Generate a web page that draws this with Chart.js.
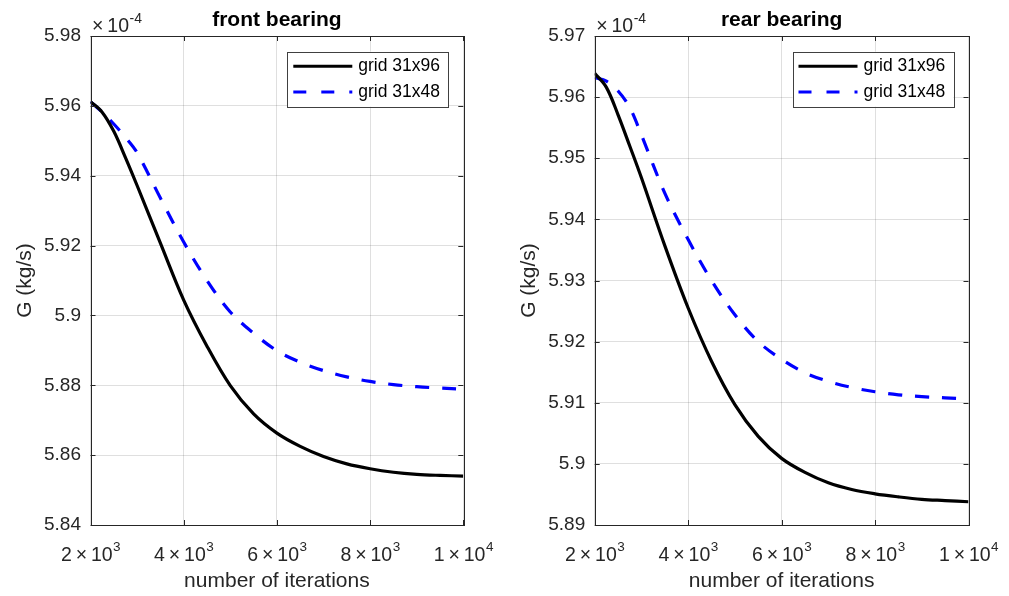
<!DOCTYPE html>
<html>
<head>
<meta charset="utf-8">
<script src="https://cdn.jsdelivr.net/npm/chart.js@4"></script>
<style>
  html, body { margin: 0; padding: 0; background: #fff; }
  #wrap { position: relative; width: 1009px; height: 596px; overflow: hidden; }
  .box { position: absolute; top: 0; height: 596px; }
</style>
</head>
<body>
<div id="wrap">
  <div class="box" style="left:0;width:504px"><canvas id="front" width="504" height="596"></canvas></div>
  <div class="box" style="left:504px;width:505px"><canvas id="rear" width="505" height="596"></canvas></div>
</div>
<script>
// Données (G en 1e-4 kg/s)
const iterations = [2000, 2250, 2500, 2750, 3000, 3500, 4000, 4500, 5000, 5500, 6000, 6500, 7000, 7500, 8000, 8500, 9000, 9500, 10000];

const frontGrid96 = [5.9612, 5.9582, 5.9527, 5.9452, 5.9372, 5.9207, 5.9044, 5.8912, 5.8799, 5.8718, 5.8663, 5.8625, 5.8596, 5.8575, 5.8561, 5.8551, 5.8545, 5.8542, 5.854];
const frontGrid48 = [5.9612, 5.9582, 5.9548, 5.951, 5.9466, 5.9336, 5.921, 5.910, 5.901, 5.8949, 5.8899, 5.8866, 5.8842, 5.8824, 5.8811, 5.8802, 5.8796, 5.8792, 5.8789];

const rearGrid96 = [5.9639, 5.9616, 5.9571, 5.952, 5.9468, 5.9357, 5.9255, 5.9168, 5.9097, 5.9045, 5.9009, 5.8986, 5.8969, 5.8958, 5.8951, 5.8946, 5.8942, 5.894, 5.8938];
const rearGrid48 = [5.9632, 5.9626, 5.961, 5.9583, 5.9538, 5.9443, 5.9367, 5.930, 5.9244, 5.920, 5.9171, 5.9149, 5.9135, 5.9125, 5.9118, 5.9113, 5.911, 5.9108, 5.9106];

const seriesLabels = ['grid 31x96', 'grid 31x48'];
const xLabel = 'number of iterations';
const yLabel = 'G (kg/s)';

const FONT = '"Liberation Sans", Arial, Helvetica, sans-serif';
const TXT = '#262626';
const DASH = [14, 13];

function toPoints(ys) {
    return ys.map((y, i) => ({ x: iterations[i], y: y }));
}

// Décorations façon MATLAB : cadre, ticks internes, titre, exposants, légende
const matlabDeco = {
    id: 'matlabDeco',
    afterDraw(chart, args, opts) {
        const ctx = chart.ctx;
        const a = chart.chartArea;
        const xs = chart.scales.x, ys = chart.scales.y;
        ctx.save();

        // cadre
        ctx.strokeStyle = TXT;
        ctx.lineWidth = 1;
        ctx.strokeRect(Math.round(a.left) + 0.5, Math.round(a.top) + 0.5,
            Math.round(a.right - a.left), Math.round(a.bottom - a.top));

        // ticks internes
        const tl = 5;
        ctx.beginPath();
        xs.ticks.forEach(t => {
            const px = Math.round(xs.getPixelForValue(t.value)) + 0.5;
            ctx.moveTo(px, a.bottom); ctx.lineTo(px, a.bottom - tl);
            ctx.moveTo(px, a.top); ctx.lineTo(px, a.top + tl);
        });
        ys.ticks.forEach(t => {
            const py = Math.round(ys.getPixelForValue(t.value)) + 0.5;
            ctx.moveTo(a.left, py); ctx.lineTo(a.left + tl, py);
            ctx.moveTo(a.right, py); ctx.lineTo(a.right - tl, py);
        });
        ctx.stroke();

        ctx.fillStyle = TXT;

        // labels de l'axe x : m x 10^e
        xs.ticks.forEach(t => {
            const v = t.value;
            const e = Math.floor(Math.log10(v) + 1e-9);
            const m = Math.round(v / Math.pow(10, e));
            const base = m + '\u2009\u00d7\u200910';
            ctx.font = '19.5px ' + FONT;
            const wb = ctx.measureText(base).width;
            ctx.font = '13.5px ' + FONT;
            const ws = ctx.measureText(String(e)).width;
            const x0 = xs.getPixelForValue(v) - (wb + ws) / 2;
            ctx.textAlign = 'left';
            ctx.textBaseline = 'alphabetic';
            ctx.font = '19.5px ' + FONT;
            ctx.fillText(base, x0, 561);
            ctx.font = '13.5px ' + FONT;
            ctx.fillText(String(e), x0 + wb + 0.5, 551);
        });

        // titre de l'axe x
        ctx.font = '21px ' + FONT;
        ctx.textAlign = 'center';
        ctx.fillText(xLabel, (a.left + a.right) / 2, 587);

        // titre de l'axe y
        ctx.save();
        ctx.translate(25, (a.top + a.bottom) / 2);
        ctx.rotate(-Math.PI / 2);
        ctx.textBaseline = 'middle';
        ctx.fillText(yLabel, 0, 0);
        ctx.restore();

        // titre du graphique
        ctx.font = 'bold 21px ' + FONT;
        ctx.textAlign = 'center';
        ctx.textBaseline = 'alphabetic';
        ctx.fillStyle = '#000';
        ctx.fillText(opts.title, (a.left + a.right) / 2, 26);

        // multiplicateur x10^-4
        ctx.fillStyle = TXT;
        ctx.textAlign = 'left';
        ctx.font = '19.5px ' + FONT;
        const bx = a.left + 1.5;
        const mult = '\u00d7\u200910';
        ctx.fillText(mult, bx, 31.5);
        const wx = ctx.measureText(mult).width;
        ctx.font = '14px ' + FONT;
        ctx.fillText('-4', bx + wx + 0.5, 23);

        // légende
        const lw = 161, lh = 55;
        const lx = a.right - 15 - lw, ly = a.top + 15.7;
        ctx.fillStyle = '#fff';
        ctx.fillRect(lx, ly, lw, lh);
        ctx.strokeStyle = '#404040';
        ctx.lineWidth = 1;
        ctx.strokeRect(Math.round(lx) + 0.5, Math.round(ly) + 0.5, lw, lh);

        const rows = [
            { label: seriesLabels[0], color: '#000', dash: [] },
            { label: seriesLabels[1], color: '#0000ff', dash: [13, 15] }
        ];
        rows.forEach((r, i) => {
            const yy = ly + 14.5 + i * 25.7;
            ctx.strokeStyle = r.color;
            ctx.lineWidth = 3;
            ctx.setLineDash(r.dash);
            ctx.beginPath();
            ctx.moveTo(lx + 6, yy);
            ctx.lineTo(lx + 65, yy);
            ctx.stroke();
            ctx.setLineDash([]);
            ctx.fillStyle = '#000';
            ctx.font = '17.5px ' + FONT;
            ctx.textBaseline = 'middle';
            ctx.fillText(r.label, lx + 71, yy);
        });

        ctx.restore();
    }
};

function makeChart(id, title, fine, coarse, yMin, yMax, yStep, yWidth, padRight) {
    const ctx = document.getElementById(id).getContext('2d');
    return new Chart(ctx, {
        type: 'line',
        data: {
            datasets: [{
                label: seriesLabels[0],
                data: toPoints(fine),
                borderColor: '#000000',
                borderWidth: 3.2,
                pointRadius: 0,
                fill: false,
                tension: 0.35
            }, {
                label: seriesLabels[1],
                data: toPoints(coarse),
                borderColor: '#0000ff',
                borderWidth: 3.2,
                borderDash: DASH,
                pointRadius: 0,
                fill: false,
                tension: 0.35
            }]
        },
        options: {
            responsive: false,
            animation: false,
            devicePixelRatio: 1,
            layout: { padding: { top: 36, right: padRight, bottom: 0, left: 0 } },
            plugins: {
                legend: { display: false },
                title: { display: false },
                tooltip: { enabled: false },
                matlabDeco: { title: title }
            },
            scales: {
                x: {
                    type: 'linear',
                    min: 2000,
                    max: 10000,
                    ticks: { stepSize: 2000, display: false },
                    grid: { color: 'rgba(38,38,38,0.15)', drawTicks: false },
                    border: { display: false },
                    afterFit: s => { s.height = 71; }
                },
                y: {
                    min: yMin,
                    max: yMax,
                    ticks: {
                        stepSize: yStep,
                        padding: 9.5,
                        color: TXT,
                        font: { family: FONT, size: 19 },
                        callback: v => String(Number(v.toFixed(2)))
                    },
                    grid: { color: 'rgba(38,38,38,0.15)', drawTicks: false },
                    border: { display: false },
                    afterFit: s => { s.width = yWidth; }
                }
            }
        },
        plugins: [matlabDeco]
    });
}

makeChart('front', 'front bearing', frontGrid96, frontGrid48, 5.84, 5.98, 0.02, 90.5, 40.7);
makeChart('rear', 'rear bearing', rearGrid96, rearGrid48, 5.89, 5.97, 0.01, 90.7, 40.5);
</script>
</body>
</html>
